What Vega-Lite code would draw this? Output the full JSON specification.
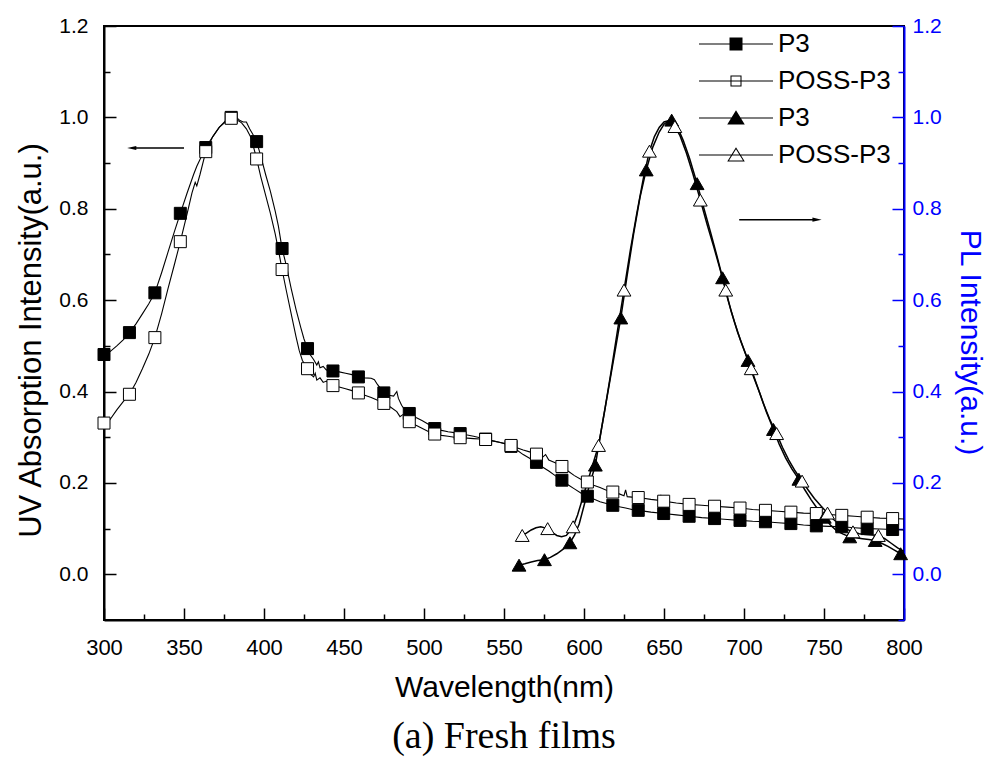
{
  "$schema": "https://vega.github.io/schema/vega-lite/v6.json",
  "width": 800,
  "height": 594,
  "autosize": {"type": "none"},
  "padding": {"left": 104, "top": 26, "right": 87, "bottom": 142},
  "background": "white",
  "title": {"text": "(a) Fresh films", "orient": "bottom", "anchor": "middle", "font": "Liberation Serif", "fontSize": 38, "fontWeight": "normal", "color": "black", "offset": 16},
  "config": {
    "view": {"stroke": "black", "strokeWidth": 2},
    "axis": {"grid": false, "domainColor": "black", "domainWidth": 2, "tickColor": "black", "tickWidth": 1.5, "labelFont": "Liberation Sans", "labelFontSize": 21, "labelColor": "black", "titleFont": "Liberation Sans", "titleFontSize": 30, "titleFontWeight": "normal", "titleColor": "black"},
    "legend": {"padding": 0}
  },
  "datasets": {
    "abs": [
      {"s": "P3 abs", "wl": 300, "v": 0.481}, {"s": "P3 abs", "wl": 304, "v": 0.488}, {"s": "P3 abs", "wl": 308, "v": 0.5}, {"s": "P3 abs", "wl": 312, "v": 0.513}, {"s": "P3 abs", "wl": 315.9, "v": 0.529}, {"s": "P3 abs", "wl": 320, "v": 0.548}, {"s": "P3 abs", "wl": 324, "v": 0.57}, {"s": "P3 abs", "wl": 328, "v": 0.592}, {"s": "P3 abs", "wl": 331.8, "v": 0.616}, {"s": "P3 abs", "wl": 336, "v": 0.66}, {"s": "P3 abs", "wl": 340, "v": 0.705}, {"s": "P3 abs", "wl": 344, "v": 0.75}, {"s": "P3 abs", "wl": 347.7, "v": 0.79}, {"s": "P3 abs", "wl": 352, "v": 0.835}, {"s": "P3 abs", "wl": 356, "v": 0.875}, {"s": "P3 abs", "wl": 358, "v": 0.893}, {"s": "P3 abs", "wl": 360, "v": 0.908}, {"s": "P3 abs", "wl": 363.6, "v": 0.934}, {"s": "P3 abs", "wl": 368, "v": 0.958}, {"s": "P3 abs", "wl": 372, "v": 0.978}, {"s": "P3 abs", "wl": 376, "v": 0.993}, {"s": "P3 abs", "wl": 379.5, "v": 1.0}, {"s": "P3 abs", "wl": 383, "v": 0.999}, {"s": "P3 abs", "wl": 385, "v": 0.993}, {"s": "P3 abs", "wl": 387, "v": 0.99}, {"s": "P3 abs", "wl": 389, "v": 0.99}, {"s": "P3 abs", "wl": 391, "v": 0.975}, {"s": "P3 abs", "wl": 393, "v": 0.963}, {"s": "P3 abs", "wl": 395.4, "v": 0.947}, {"s": "P3 abs", "wl": 398, "v": 0.915}, {"s": "P3 abs", "wl": 401, "v": 0.875}, {"s": "P3 abs", "wl": 404, "v": 0.838}, {"s": "P3 abs", "wl": 407, "v": 0.795}, {"s": "P3 abs", "wl": 409, "v": 0.762}, {"s": "P3 abs", "wl": 411.3, "v": 0.713}, {"s": "P3 abs", "wl": 414, "v": 0.675}, {"s": "P3 abs", "wl": 417, "v": 0.625}, {"s": "P3 abs", "wl": 420, "v": 0.58}, {"s": "P3 abs", "wl": 423, "v": 0.54}, {"s": "P3 abs", "wl": 425, "v": 0.515}, {"s": "P3 abs", "wl": 427.2, "v": 0.494}, {"s": "P3 abs", "wl": 429, "v": 0.48}, {"s": "P3 abs", "wl": 431, "v": 0.47}, {"s": "P3 abs", "wl": 433, "v": 0.458}, {"s": "P3 abs", "wl": 434, "v": 0.465}, {"s": "P3 abs", "wl": 435, "v": 0.452}, {"s": "P3 abs", "wl": 437, "v": 0.455}, {"s": "P3 abs", "wl": 439, "v": 0.447}, {"s": "P3 abs", "wl": 441, "v": 0.45}, {"s": "P3 abs", "wl": 443.1, "v": 0.445}, {"s": "P3 abs", "wl": 447, "v": 0.443}, {"s": "P3 abs", "wl": 451, "v": 0.44}, {"s": "P3 abs", "wl": 455, "v": 0.437}, {"s": "P3 abs", "wl": 459, "v": 0.432}, {"s": "P3 abs", "wl": 463, "v": 0.43}, {"s": "P3 abs", "wl": 467, "v": 0.429}, {"s": "P3 abs", "wl": 469, "v": 0.426}, {"s": "P3 abs", "wl": 471, "v": 0.415}, {"s": "P3 abs", "wl": 474.9, "v": 0.397}, {"s": "P3 abs", "wl": 478, "v": 0.392}, {"s": "P3 abs", "wl": 481, "v": 0.39}, {"s": "P3 abs", "wl": 483, "v": 0.4}, {"s": "P3 abs", "wl": 484, "v": 0.385}, {"s": "P3 abs", "wl": 486, "v": 0.37}, {"s": "P3 abs", "wl": 488, "v": 0.36}, {"s": "P3 abs", "wl": 490.8, "v": 0.352}, {"s": "P3 abs", "wl": 495, "v": 0.343}, {"s": "P3 abs", "wl": 499, "v": 0.336}, {"s": "P3 abs", "wl": 503, "v": 0.328}, {"s": "P3 abs", "wl": 506.7, "v": 0.319}, {"s": "P3 abs", "wl": 511, "v": 0.315}, {"s": "P3 abs", "wl": 515, "v": 0.312}, {"s": "P3 abs", "wl": 519, "v": 0.31}, {"s": "P3 abs", "wl": 522.6, "v": 0.308}, {"s": "P3 abs", "wl": 527, "v": 0.305}, {"s": "P3 abs", "wl": 531, "v": 0.302}, {"s": "P3 abs", "wl": 535, "v": 0.299}, {"s": "P3 abs", "wl": 538.5, "v": 0.296}, {"s": "P3 abs", "wl": 543, "v": 0.292}, {"s": "P3 abs", "wl": 547, "v": 0.289}, {"s": "P3 abs", "wl": 551, "v": 0.285}, {"s": "P3 abs", "wl": 554.4, "v": 0.28}, {"s": "P3 abs", "wl": 558, "v": 0.272}, {"s": "P3 abs", "wl": 562, "v": 0.262}, {"s": "P3 abs", "wl": 566, "v": 0.254}, {"s": "P3 abs", "wl": 570.3, "v": 0.245}, {"s": "P3 abs", "wl": 574, "v": 0.235}, {"s": "P3 abs", "wl": 578, "v": 0.226}, {"s": "P3 abs", "wl": 582, "v": 0.216}, {"s": "P3 abs", "wl": 586.2, "v": 0.206}, {"s": "P3 abs", "wl": 590, "v": 0.196}, {"s": "P3 abs", "wl": 594, "v": 0.187}, {"s": "P3 abs", "wl": 598, "v": 0.178}, {"s": "P3 abs", "wl": 602.1, "v": 0.171}, {"s": "P3 abs", "wl": 606, "v": 0.165}, {"s": "P3 abs", "wl": 610, "v": 0.159}, {"s": "P3 abs", "wl": 614, "v": 0.155}, {"s": "P3 abs", "wl": 618, "v": 0.151}, {"s": "P3 abs", "wl": 622, "v": 0.148}, {"s": "P3 abs", "wl": 626, "v": 0.145}, {"s": "P3 abs", "wl": 630, "v": 0.142}, {"s": "P3 abs", "wl": 633.9, "v": 0.14}, {"s": "P3 abs", "wl": 641.8, "v": 0.136}, {"s": "P3 abs", "wl": 649.8, "v": 0.133}, {"s": "P3 abs", "wl": 657.7, "v": 0.13}, {"s": "P3 abs", "wl": 665.7, "v": 0.127}, {"s": "P3 abs", "wl": 673.6, "v": 0.124}, {"s": "P3 abs", "wl": 681.6, "v": 0.122}, {"s": "P3 abs", "wl": 689.6, "v": 0.12}, {"s": "P3 abs", "wl": 697.5, "v": 0.118}, {"s": "P3 abs", "wl": 705.4, "v": 0.116}, {"s": "P3 abs", "wl": 713.4, "v": 0.115}, {"s": "P3 abs", "wl": 721.3, "v": 0.113}, {"s": "P3 abs", "wl": 729.3, "v": 0.111}, {"s": "P3 abs", "wl": 737.2, "v": 0.108}, {"s": "P3 abs", "wl": 745.2, "v": 0.106}, {"s": "P3 abs", "wl": 753.1, "v": 0.105}, {"s": "P3 abs", "wl": 761.1, "v": 0.104}, {"s": "P3 abs", "wl": 769, "v": 0.102}, {"s": "P3 abs", "wl": 777, "v": 0.1}, {"s": "P3 abs", "wl": 785, "v": 0.099}, {"s": "P3 abs", "wl": 792.9, "v": 0.098}, {"s": "P3 abs", "wl": 800, "v": 0.097},
      {"s": "POSS-P3 abs", "wl": 300, "v": 0.32}, {"s": "POSS-P3 abs", "wl": 304, "v": 0.34}, {"s": "POSS-P3 abs", "wl": 308, "v": 0.36}, {"s": "POSS-P3 abs", "wl": 312, "v": 0.378}, {"s": "POSS-P3 abs", "wl": 315.9, "v": 0.394}, {"s": "POSS-P3 abs", "wl": 320, "v": 0.42}, {"s": "POSS-P3 abs", "wl": 324, "v": 0.45}, {"s": "POSS-P3 abs", "wl": 328, "v": 0.482}, {"s": "POSS-P3 abs", "wl": 331.8, "v": 0.518}, {"s": "POSS-P3 abs", "wl": 336, "v": 0.57}, {"s": "POSS-P3 abs", "wl": 340, "v": 0.625}, {"s": "POSS-P3 abs", "wl": 344, "v": 0.678}, {"s": "POSS-P3 abs", "wl": 347.7, "v": 0.728}, {"s": "POSS-P3 abs", "wl": 352, "v": 0.79}, {"s": "POSS-P3 abs", "wl": 355, "v": 0.835}, {"s": "POSS-P3 abs", "wl": 357, "v": 0.858}, {"s": "POSS-P3 abs", "wl": 358, "v": 0.85}, {"s": "POSS-P3 abs", "wl": 360, "v": 0.875}, {"s": "POSS-P3 abs", "wl": 363.6, "v": 0.925}, {"s": "POSS-P3 abs", "wl": 368, "v": 0.958}, {"s": "POSS-P3 abs", "wl": 372, "v": 0.978}, {"s": "POSS-P3 abs", "wl": 376, "v": 0.99}, {"s": "POSS-P3 abs", "wl": 379.5, "v": 0.998}, {"s": "POSS-P3 abs", "wl": 383, "v": 0.995}, {"s": "POSS-P3 abs", "wl": 386, "v": 0.988}, {"s": "POSS-P3 abs", "wl": 389, "v": 0.975}, {"s": "POSS-P3 abs", "wl": 392, "v": 0.955}, {"s": "POSS-P3 abs", "wl": 395.4, "v": 0.909}, {"s": "POSS-P3 abs", "wl": 398, "v": 0.87}, {"s": "POSS-P3 abs", "wl": 401, "v": 0.83}, {"s": "POSS-P3 abs", "wl": 404, "v": 0.79}, {"s": "POSS-P3 abs", "wl": 407, "v": 0.745}, {"s": "POSS-P3 abs", "wl": 409, "v": 0.71}, {"s": "POSS-P3 abs", "wl": 411.3, "v": 0.667}, {"s": "POSS-P3 abs", "wl": 414, "v": 0.62}, {"s": "POSS-P3 abs", "wl": 417, "v": 0.57}, {"s": "POSS-P3 abs", "wl": 420, "v": 0.52}, {"s": "POSS-P3 abs", "wl": 422, "v": 0.49}, {"s": "POSS-P3 abs", "wl": 424, "v": 0.468}, {"s": "POSS-P3 abs", "wl": 427.2, "v": 0.45}, {"s": "POSS-P3 abs", "wl": 429, "v": 0.438}, {"s": "POSS-P3 abs", "wl": 431, "v": 0.432}, {"s": "POSS-P3 abs", "wl": 432, "v": 0.44}, {"s": "POSS-P3 abs", "wl": 433, "v": 0.425}, {"s": "POSS-P3 abs", "wl": 435, "v": 0.43}, {"s": "POSS-P3 abs", "wl": 437, "v": 0.42}, {"s": "POSS-P3 abs", "wl": 439, "v": 0.423}, {"s": "POSS-P3 abs", "wl": 441, "v": 0.416}, {"s": "POSS-P3 abs", "wl": 443.1, "v": 0.413}, {"s": "POSS-P3 abs", "wl": 447, "v": 0.41}, {"s": "POSS-P3 abs", "wl": 451, "v": 0.406}, {"s": "POSS-P3 abs", "wl": 455, "v": 0.402}, {"s": "POSS-P3 abs", "wl": 459, "v": 0.397}, {"s": "POSS-P3 abs", "wl": 463, "v": 0.392}, {"s": "POSS-P3 abs", "wl": 467, "v": 0.387}, {"s": "POSS-P3 abs", "wl": 471, "v": 0.381}, {"s": "POSS-P3 abs", "wl": 474.9, "v": 0.374}, {"s": "POSS-P3 abs", "wl": 479, "v": 0.366}, {"s": "POSS-P3 abs", "wl": 483, "v": 0.356}, {"s": "POSS-P3 abs", "wl": 485, "v": 0.345}, {"s": "POSS-P3 abs", "wl": 487, "v": 0.35}, {"s": "POSS-P3 abs", "wl": 490.8, "v": 0.334}, {"s": "POSS-P3 abs", "wl": 495, "v": 0.326}, {"s": "POSS-P3 abs", "wl": 499, "v": 0.319}, {"s": "POSS-P3 abs", "wl": 503, "v": 0.312}, {"s": "POSS-P3 abs", "wl": 506.7, "v": 0.307}, {"s": "POSS-P3 abs", "wl": 511, "v": 0.304}, {"s": "POSS-P3 abs", "wl": 515, "v": 0.302}, {"s": "POSS-P3 abs", "wl": 519, "v": 0.3}, {"s": "POSS-P3 abs", "wl": 522.6, "v": 0.299}, {"s": "POSS-P3 abs", "wl": 527, "v": 0.298}, {"s": "POSS-P3 abs", "wl": 531, "v": 0.297}, {"s": "POSS-P3 abs", "wl": 535, "v": 0.296}, {"s": "POSS-P3 abs", "wl": 538.5, "v": 0.295}, {"s": "POSS-P3 abs", "wl": 543, "v": 0.292}, {"s": "POSS-P3 abs", "wl": 547, "v": 0.289}, {"s": "POSS-P3 abs", "wl": 551, "v": 0.286}, {"s": "POSS-P3 abs", "wl": 554.4, "v": 0.282}, {"s": "POSS-P3 abs", "wl": 558, "v": 0.277}, {"s": "POSS-P3 abs", "wl": 562, "v": 0.272}, {"s": "POSS-P3 abs", "wl": 566, "v": 0.268}, {"s": "POSS-P3 abs", "wl": 570.3, "v": 0.263}, {"s": "POSS-P3 abs", "wl": 574, "v": 0.256}, {"s": "POSS-P3 abs", "wl": 576, "v": 0.262}, {"s": "POSS-P3 abs", "wl": 578, "v": 0.25}, {"s": "POSS-P3 abs", "wl": 582, "v": 0.244}, {"s": "POSS-P3 abs", "wl": 586.2, "v": 0.236}, {"s": "POSS-P3 abs", "wl": 590, "v": 0.226}, {"s": "POSS-P3 abs", "wl": 594, "v": 0.216}, {"s": "POSS-P3 abs", "wl": 598, "v": 0.208}, {"s": "POSS-P3 abs", "wl": 602.1, "v": 0.202}, {"s": "POSS-P3 abs", "wl": 606, "v": 0.195}, {"s": "POSS-P3 abs", "wl": 610, "v": 0.19}, {"s": "POSS-P3 abs", "wl": 614, "v": 0.184}, {"s": "POSS-P3 abs", "wl": 618, "v": 0.18}, {"s": "POSS-P3 abs", "wl": 622, "v": 0.176}, {"s": "POSS-P3 abs", "wl": 625, "v": 0.172}, {"s": "POSS-P3 abs", "wl": 626, "v": 0.185}, {"s": "POSS-P3 abs", "wl": 627, "v": 0.17}, {"s": "POSS-P3 abs", "wl": 630, "v": 0.169}, {"s": "POSS-P3 abs", "wl": 633.9, "v": 0.168}, {"s": "POSS-P3 abs", "wl": 641.8, "v": 0.164}, {"s": "POSS-P3 abs", "wl": 647, "v": 0.162}, {"s": "POSS-P3 abs", "wl": 648, "v": 0.174}, {"s": "POSS-P3 abs", "wl": 649, "v": 0.158}, {"s": "POSS-P3 abs", "wl": 649.8, "v": 0.16}, {"s": "POSS-P3 abs", "wl": 657.7, "v": 0.156}, {"s": "POSS-P3 abs", "wl": 665.7, "v": 0.153}, {"s": "POSS-P3 abs", "wl": 673.6, "v": 0.151}, {"s": "POSS-P3 abs", "wl": 681.6, "v": 0.149}, {"s": "POSS-P3 abs", "wl": 689.6, "v": 0.147}, {"s": "POSS-P3 abs", "wl": 697.5, "v": 0.145}, {"s": "POSS-P3 abs", "wl": 705.4, "v": 0.142}, {"s": "POSS-P3 abs", "wl": 713.4, "v": 0.14}, {"s": "POSS-P3 abs", "wl": 721.3, "v": 0.138}, {"s": "POSS-P3 abs", "wl": 729.3, "v": 0.136}, {"s": "POSS-P3 abs", "wl": 737.2, "v": 0.134}, {"s": "POSS-P3 abs", "wl": 745.2, "v": 0.133}, {"s": "POSS-P3 abs", "wl": 753.1, "v": 0.131}, {"s": "POSS-P3 abs", "wl": 761.1, "v": 0.129}, {"s": "POSS-P3 abs", "wl": 769, "v": 0.127}, {"s": "POSS-P3 abs", "wl": 777, "v": 0.125}, {"s": "POSS-P3 abs", "wl": 785, "v": 0.123}, {"s": "POSS-P3 abs", "wl": 792.9, "v": 0.122}, {"s": "POSS-P3 abs", "wl": 800, "v": 0.121}
    ],
    "absMarks": [
      {"s": "P3 abs", "wl": 300, "v": 0.481}, {"s": "P3 abs", "wl": 315.9, "v": 0.529}, {"s": "P3 abs", "wl": 331.8, "v": 0.616}, {"s": "P3 abs", "wl": 347.7, "v": 0.79}, {"s": "P3 abs", "wl": 363.6, "v": 0.934}, {"s": "P3 abs", "wl": 379.5, "v": 1.0}, {"s": "P3 abs", "wl": 395.4, "v": 0.947}, {"s": "P3 abs", "wl": 411.3, "v": 0.713}, {"s": "P3 abs", "wl": 427.2, "v": 0.494}, {"s": "P3 abs", "wl": 443.1, "v": 0.445}, {"s": "P3 abs", "wl": 459, "v": 0.432}, {"s": "P3 abs", "wl": 474.9, "v": 0.397}, {"s": "P3 abs", "wl": 490.8, "v": 0.352}, {"s": "P3 abs", "wl": 506.7, "v": 0.319}, {"s": "P3 abs", "wl": 522.6, "v": 0.308}, {"s": "P3 abs", "wl": 538.5, "v": 0.296}, {"s": "P3 abs", "wl": 554.4, "v": 0.28}, {"s": "P3 abs", "wl": 570.3, "v": 0.245}, {"s": "P3 abs", "wl": 586.2, "v": 0.206}, {"s": "P3 abs", "wl": 602.1, "v": 0.171}, {"s": "P3 abs", "wl": 618, "v": 0.151}, {"s": "P3 abs", "wl": 633.9, "v": 0.14}, {"s": "P3 abs", "wl": 649.8, "v": 0.133}, {"s": "P3 abs", "wl": 665.7, "v": 0.127}, {"s": "P3 abs", "wl": 681.6, "v": 0.122}, {"s": "P3 abs", "wl": 697.5, "v": 0.118}, {"s": "P3 abs", "wl": 713.4, "v": 0.115}, {"s": "P3 abs", "wl": 729.3, "v": 0.111}, {"s": "P3 abs", "wl": 745.2, "v": 0.106}, {"s": "P3 abs", "wl": 761.1, "v": 0.104}, {"s": "P3 abs", "wl": 777, "v": 0.1}, {"s": "P3 abs", "wl": 792.9, "v": 0.098},
      {"s": "POSS-P3 abs", "wl": 300, "v": 0.331}, {"s": "POSS-P3 abs", "wl": 315.9, "v": 0.394}, {"s": "POSS-P3 abs", "wl": 331.8, "v": 0.518}, {"s": "POSS-P3 abs", "wl": 347.7, "v": 0.728}, {"s": "POSS-P3 abs", "wl": 363.6, "v": 0.925}, {"s": "POSS-P3 abs", "wl": 379.5, "v": 0.998}, {"s": "POSS-P3 abs", "wl": 395.4, "v": 0.909}, {"s": "POSS-P3 abs", "wl": 411.3, "v": 0.667}, {"s": "POSS-P3 abs", "wl": 427.2, "v": 0.45}, {"s": "POSS-P3 abs", "wl": 443.1, "v": 0.413}, {"s": "POSS-P3 abs", "wl": 459, "v": 0.397}, {"s": "POSS-P3 abs", "wl": 474.9, "v": 0.374}, {"s": "POSS-P3 abs", "wl": 490.8, "v": 0.334}, {"s": "POSS-P3 abs", "wl": 506.7, "v": 0.307}, {"s": "POSS-P3 abs", "wl": 522.6, "v": 0.299}, {"s": "POSS-P3 abs", "wl": 538.5, "v": 0.295}, {"s": "POSS-P3 abs", "wl": 554.4, "v": 0.282}, {"s": "POSS-P3 abs", "wl": 570.3, "v": 0.263}, {"s": "POSS-P3 abs", "wl": 586.2, "v": 0.236}, {"s": "POSS-P3 abs", "wl": 602.1, "v": 0.202}, {"s": "POSS-P3 abs", "wl": 618, "v": 0.18}, {"s": "POSS-P3 abs", "wl": 633.9, "v": 0.168}, {"s": "POSS-P3 abs", "wl": 649.8, "v": 0.16}, {"s": "POSS-P3 abs", "wl": 665.7, "v": 0.153}, {"s": "POSS-P3 abs", "wl": 681.6, "v": 0.149}, {"s": "POSS-P3 abs", "wl": 697.5, "v": 0.145}, {"s": "POSS-P3 abs", "wl": 713.4, "v": 0.14}, {"s": "POSS-P3 abs", "wl": 729.3, "v": 0.136}, {"s": "POSS-P3 abs", "wl": 745.2, "v": 0.133}, {"s": "POSS-P3 abs", "wl": 761.1, "v": 0.129}, {"s": "POSS-P3 abs", "wl": 777, "v": 0.125}, {"s": "POSS-P3 abs", "wl": 792.9, "v": 0.122}
    ],
    "pl": [
      {"s": "P3 PL", "wl": 559.4, "v": 0.02}, {"s": "P3 PL", "wl": 563, "v": 0.023}, {"s": "P3 PL", "wl": 567, "v": 0.027}, {"s": "P3 PL", "wl": 571, "v": 0.03}, {"s": "P3 PL", "wl": 575.3, "v": 0.032}, {"s": "P3 PL", "wl": 579, "v": 0.037}, {"s": "P3 PL", "wl": 583, "v": 0.045}, {"s": "P3 PL", "wl": 587, "v": 0.055}, {"s": "P3 PL", "wl": 591.2, "v": 0.069}, {"s": "P3 PL", "wl": 594, "v": 0.085}, {"s": "P3 PL", "wl": 597, "v": 0.11}, {"s": "P3 PL", "wl": 600, "v": 0.15}, {"s": "P3 PL", "wl": 603, "v": 0.19}, {"s": "P3 PL", "wl": 607.1, "v": 0.239}, {"s": "P3 PL", "wl": 611, "v": 0.32}, {"s": "P3 PL", "wl": 615, "v": 0.4}, {"s": "P3 PL", "wl": 619, "v": 0.48}, {"s": "P3 PL", "wl": 623, "v": 0.561}, {"s": "P3 PL", "wl": 627, "v": 0.655}, {"s": "P3 PL", "wl": 631, "v": 0.745}, {"s": "P3 PL", "wl": 635, "v": 0.825}, {"s": "P3 PL", "wl": 638.9, "v": 0.885}, {"s": "P3 PL", "wl": 643, "v": 0.935}, {"s": "P3 PL", "wl": 647, "v": 0.968}, {"s": "P3 PL", "wl": 650, "v": 0.985}, {"s": "P3 PL", "wl": 652, "v": 0.99}, {"s": "P3 PL", "wl": 654.8, "v": 0.994}, {"s": "P3 PL", "wl": 658, "v": 0.982}, {"s": "P3 PL", "wl": 662, "v": 0.95}, {"s": "P3 PL", "wl": 666, "v": 0.91}, {"s": "P3 PL", "wl": 670.7, "v": 0.855}, {"s": "P3 PL", "wl": 675, "v": 0.8}, {"s": "P3 PL", "wl": 679, "v": 0.75}, {"s": "P3 PL", "wl": 683, "v": 0.698}, {"s": "P3 PL", "wl": 686.6, "v": 0.649}, {"s": "P3 PL", "wl": 690, "v": 0.6}, {"s": "P3 PL", "wl": 694, "v": 0.553}, {"s": "P3 PL", "wl": 698, "v": 0.51}, {"s": "P3 PL", "wl": 702.5, "v": 0.468}, {"s": "P3 PL", "wl": 706, "v": 0.432}, {"s": "P3 PL", "wl": 710, "v": 0.395}, {"s": "P3 PL", "wl": 714, "v": 0.355}, {"s": "P3 PL", "wl": 718.4, "v": 0.317}, {"s": "P3 PL", "wl": 722, "v": 0.285}, {"s": "P3 PL", "wl": 726, "v": 0.255}, {"s": "P3 PL", "wl": 730, "v": 0.23}, {"s": "P3 PL", "wl": 734.3, "v": 0.208}, {"s": "P3 PL", "wl": 738, "v": 0.185}, {"s": "P3 PL", "wl": 742, "v": 0.163}, {"s": "P3 PL", "wl": 746, "v": 0.143}, {"s": "P3 PL", "wl": 750.2, "v": 0.125}, {"s": "P3 PL", "wl": 754, "v": 0.108}, {"s": "P3 PL", "wl": 758, "v": 0.095}, {"s": "P3 PL", "wl": 762, "v": 0.088}, {"s": "P3 PL", "wl": 766.1, "v": 0.082}, {"s": "P3 PL", "wl": 770, "v": 0.08}, {"s": "P3 PL", "wl": 774, "v": 0.078}, {"s": "P3 PL", "wl": 778, "v": 0.076}, {"s": "P3 PL", "wl": 782, "v": 0.074}, {"s": "P3 PL", "wl": 786, "v": 0.068}, {"s": "P3 PL", "wl": 790, "v": 0.061}, {"s": "P3 PL", "wl": 794, "v": 0.053}, {"s": "P3 PL", "wl": 797.9, "v": 0.045}, {"s": "P3 PL", "wl": 800, "v": 0.041},
      {"s": "POSS-P3 PL", "wl": 561.4, "v": 0.085}, {"s": "POSS-P3 PL", "wl": 564, "v": 0.09}, {"s": "POSS-P3 PL", "wl": 567, "v": 0.097}, {"s": "POSS-P3 PL", "wl": 570, "v": 0.102}, {"s": "POSS-P3 PL", "wl": 573, "v": 0.104}, {"s": "POSS-P3 PL", "wl": 577.3, "v": 0.1}, {"s": "POSS-P3 PL", "wl": 580, "v": 0.092}, {"s": "POSS-P3 PL", "wl": 583, "v": 0.085}, {"s": "POSS-P3 PL", "wl": 586, "v": 0.082}, {"s": "POSS-P3 PL", "wl": 589, "v": 0.085}, {"s": "POSS-P3 PL", "wl": 593.2, "v": 0.104}, {"s": "POSS-P3 PL", "wl": 596, "v": 0.13}, {"s": "POSS-P3 PL", "wl": 599, "v": 0.165}, {"s": "POSS-P3 PL", "wl": 602, "v": 0.2}, {"s": "POSS-P3 PL", "wl": 605, "v": 0.235}, {"s": "POSS-P3 PL", "wl": 609.1, "v": 0.282}, {"s": "POSS-P3 PL", "wl": 613, "v": 0.36}, {"s": "POSS-P3 PL", "wl": 617, "v": 0.445}, {"s": "POSS-P3 PL", "wl": 621, "v": 0.535}, {"s": "POSS-P3 PL", "wl": 625, "v": 0.622}, {"s": "POSS-P3 PL", "wl": 629, "v": 0.71}, {"s": "POSS-P3 PL", "wl": 633, "v": 0.79}, {"s": "POSS-P3 PL", "wl": 637, "v": 0.865}, {"s": "POSS-P3 PL", "wl": 640.9, "v": 0.926}, {"s": "POSS-P3 PL", "wl": 644, "v": 0.958}, {"s": "POSS-P3 PL", "wl": 647, "v": 0.978}, {"s": "POSS-P3 PL", "wl": 650, "v": 0.99}, {"s": "POSS-P3 PL", "wl": 653, "v": 0.993}, {"s": "POSS-P3 PL", "wl": 656.8, "v": 0.98}, {"s": "POSS-P3 PL", "wl": 660, "v": 0.96}, {"s": "POSS-P3 PL", "wl": 664, "v": 0.922}, {"s": "POSS-P3 PL", "wl": 668, "v": 0.877}, {"s": "POSS-P3 PL", "wl": 672.7, "v": 0.819}, {"s": "POSS-P3 PL", "wl": 677, "v": 0.765}, {"s": "POSS-P3 PL", "wl": 681, "v": 0.718}, {"s": "POSS-P3 PL", "wl": 685, "v": 0.668}, {"s": "POSS-P3 PL", "wl": 688.6, "v": 0.622}, {"s": "POSS-P3 PL", "wl": 692, "v": 0.575}, {"s": "POSS-P3 PL", "wl": 696, "v": 0.53}, {"s": "POSS-P3 PL", "wl": 700, "v": 0.492}, {"s": "POSS-P3 PL", "wl": 704.5, "v": 0.45}, {"s": "POSS-P3 PL", "wl": 708, "v": 0.415}, {"s": "POSS-P3 PL", "wl": 712, "v": 0.375}, {"s": "POSS-P3 PL", "wl": 716, "v": 0.34}, {"s": "POSS-P3 PL", "wl": 720.4, "v": 0.308}, {"s": "POSS-P3 PL", "wl": 724, "v": 0.278}, {"s": "POSS-P3 PL", "wl": 728, "v": 0.25}, {"s": "POSS-P3 PL", "wl": 732, "v": 0.226}, {"s": "POSS-P3 PL", "wl": 736.3, "v": 0.204}, {"s": "POSS-P3 PL", "wl": 740, "v": 0.185}, {"s": "POSS-P3 PL", "wl": 744, "v": 0.166}, {"s": "POSS-P3 PL", "wl": 748, "v": 0.15}, {"s": "POSS-P3 PL", "wl": 752.2, "v": 0.134}, {"s": "POSS-P3 PL", "wl": 756, "v": 0.12}, {"s": "POSS-P3 PL", "wl": 760, "v": 0.108}, {"s": "POSS-P3 PL", "wl": 764, "v": 0.099}, {"s": "POSS-P3 PL", "wl": 768.1, "v": 0.093}, {"s": "POSS-P3 PL", "wl": 772, "v": 0.089}, {"s": "POSS-P3 PL", "wl": 776, "v": 0.087}, {"s": "POSS-P3 PL", "wl": 780, "v": 0.086}, {"s": "POSS-P3 PL", "wl": 784, "v": 0.085}, {"s": "POSS-P3 PL", "wl": 788, "v": 0.078}, {"s": "POSS-P3 PL", "wl": 792, "v": 0.068}, {"s": "POSS-P3 PL", "wl": 796, "v": 0.058}, {"s": "POSS-P3 PL", "wl": 800, "v": 0.05}
    ],
    "plMarks": [
      {"s": "P3 PL", "wl": 559.4, "v": 0.02}, {"s": "P3 PL", "wl": 575.3, "v": 0.032}, {"s": "P3 PL", "wl": 591.2, "v": 0.069}, {"s": "P3 PL", "wl": 607.1, "v": 0.239}, {"s": "P3 PL", "wl": 623, "v": 0.561}, {"s": "P3 PL", "wl": 638.9, "v": 0.885}, {"s": "P3 PL", "wl": 654.8, "v": 0.994}, {"s": "P3 PL", "wl": 670.7, "v": 0.855}, {"s": "P3 PL", "wl": 686.6, "v": 0.649}, {"s": "P3 PL", "wl": 702.5, "v": 0.468}, {"s": "P3 PL", "wl": 718.4, "v": 0.317}, {"s": "P3 PL", "wl": 734.3, "v": 0.208}, {"s": "P3 PL", "wl": 750.2, "v": 0.125}, {"s": "P3 PL", "wl": 766.1, "v": 0.082}, {"s": "P3 PL", "wl": 782, "v": 0.074}, {"s": "P3 PL", "wl": 797.9, "v": 0.045},
      {"s": "POSS-P3 PL", "wl": 561.4, "v": 0.085}, {"s": "POSS-P3 PL", "wl": 577.3, "v": 0.1}, {"s": "POSS-P3 PL", "wl": 593.2, "v": 0.104}, {"s": "POSS-P3 PL", "wl": 609.1, "v": 0.282}, {"s": "POSS-P3 PL", "wl": 625, "v": 0.622}, {"s": "POSS-P3 PL", "wl": 640.9, "v": 0.926}, {"s": "POSS-P3 PL", "wl": 656.8, "v": 0.98}, {"s": "POSS-P3 PL", "wl": 672.7, "v": 0.819}, {"s": "POSS-P3 PL", "wl": 688.6, "v": 0.622}, {"s": "POSS-P3 PL", "wl": 704.5, "v": 0.45}, {"s": "POSS-P3 PL", "wl": 720.4, "v": 0.308}, {"s": "POSS-P3 PL", "wl": 736.3, "v": 0.204}, {"s": "POSS-P3 PL", "wl": 752.2, "v": 0.134}, {"s": "POSS-P3 PL", "wl": 768.1, "v": 0.093}, {"s": "POSS-P3 PL", "wl": 784, "v": 0.085}
    ],
    "arrows": [
      {"dir": "left", "from": 350, "to": 318, "v": 0.933},
      {"dir": "right", "from": 697, "to": 745, "v": 0.776}
    ]
  },
  "layer": [
    {
      "data": {"name": "abs"},
      "mark": {"type": "line", "color": "black", "strokeWidth": 1.1},
      "encoding": {
        "x": {"field": "wl", "type": "quantitative", "scale": {"domain": [300, 800], "nice": false, "zero": false},
              "axis": {"orient": "bottom", "title": "Wavelength(nm)", "values": [300, 350, 400, 450, 500, 550, 600, 650, 700, 750, 800], "tickSize": -12, "labelPadding": 29, "labelFontSize": 22, "titlePadding": 14, "labelFlush": false}},
        "y": {"field": "v", "type": "quantitative", "scale": {"domain": [-0.1, 1.2], "nice": false, "zero": false},
              "axis": {"orient": "left", "title": "UV Absorption Intensity(a.u.)", "titleY": 314, "titleFontSize": 31, "values": [0, 0.2, 0.4, 0.6, 0.8, 1.0, 1.2], "format": ".1f", "tickSize": -12, "labelPadding": 28, "titlePadding": 11, "labelFlush": false}},
        "detail": {"field": "s"}
      }
    },
    {
      "data": {"name": "pl"},
      "mark": {"type": "line", "color": "black", "strokeWidth": 1.5},
      "encoding": {
        "x": {"field": "wl", "type": "quantitative", "scale": {"domain": [300, 800], "nice": false, "zero": false}, "axis": null},
        "y": {"field": "v", "type": "quantitative", "scale": {"domain": [-0.1, 1.2], "nice": false, "zero": false},
              "axis": {"orient": "right", "title": "PL Intensity(a.u.)", "titleY": 316, "values": [0, 0.2, 0.4, 0.6, 0.8, 1.0, 1.2], "format": ".1f", "tickSize": -12, "labelPadding": 20, "titlePadding": 13, "labelFlush": false,
                       "domainColor": "#0000FF", "tickColor": "#0000FF", "labelColor": "#0000FF", "titleColor": "#0000FF"}},
        "detail": {"field": "s"}
      }
    },
    {
      "data": {"name": "absMarks"},
      "transform": [{"filter": "datum.s === 'P3 abs'"}],
      "mark": {"type": "point", "shape": "square", "size": 144, "filled": true, "fill": "black", "stroke": "black", "strokeWidth": 1, "opacity": 1},
      "encoding": {
        "x": {"field": "wl", "type": "quantitative", "scale": {"domain": [300, 800], "nice": false, "zero": false},
              "axis": {"orient": "bottom", "title": null, "labels": false, "domain": false, "values": [325, 375, 425, 475, 525, 575, 625, 675, 725, 775], "tickSize": -6}},
        "y": {"field": "v", "type": "quantitative", "scale": {"domain": [-0.1, 1.2], "nice": false, "zero": false},
              "axis": {"orient": "left", "title": null, "labels": false, "domain": false, "values": [0.1, 0.3, 0.5, 0.7, 0.9, 1.1], "tickSize": -6}}
      }
    },
    {
      "data": {"name": "absMarks"},
      "transform": [{"filter": "datum.s === 'POSS-P3 abs'"}],
      "mark": {"type": "point", "shape": "square", "size": 144, "filled": true, "fill": "white", "stroke": "black", "strokeWidth": 1, "opacity": 1},
      "encoding": {
        "x": {"field": "wl", "type": "quantitative", "scale": {"domain": [300, 800], "nice": false, "zero": false}, "axis": null},
        "y": {"field": "v", "type": "quantitative", "scale": {"domain": [-0.1, 1.2], "nice": false, "zero": false}, "axis": null}
      }
    },
    {
      "data": {"name": "plMarks"},
      "transform": [{"filter": "datum.s === 'P3 PL'"}],
      "mark": {"type": "point", "shape": "triangle-up", "size": 190, "filled": true, "fill": "black", "stroke": "black", "strokeWidth": 1, "opacity": 1},
      "encoding": {
        "x": {"field": "wl", "type": "quantitative", "scale": {"domain": [300, 800], "nice": false, "zero": false}, "axis": null},
        "y": {"field": "v", "type": "quantitative", "scale": {"domain": [-0.1, 1.2], "nice": false, "zero": false},
              "axis": {"orient": "right", "title": null, "labels": false, "domain": false, "values": [-0.1, 0.1, 0.3, 0.5, 0.7, 0.9, 1.1], "tickSize": -6, "tickColor": "#0000FF"}}
      }
    },
    {
      "data": {"name": "plMarks"},
      "transform": [{"filter": "datum.s === 'POSS-P3 PL'"}],
      "mark": {"type": "point", "shape": "triangle-up", "size": 190, "filled": true, "fill": "white", "stroke": "black", "strokeWidth": 1, "opacity": 1},
      "encoding": {
        "x": {"field": "wl", "type": "quantitative", "scale": {"domain": [300, 800], "nice": false, "zero": false}, "axis": null},
        "y": {"field": "v", "type": "quantitative", "scale": {"domain": [-0.1, 1.2], "nice": false, "zero": false}, "axis": null}
      }
    },
    {
      "data": {"name": "arrows"},
      "mark": {"type": "rule", "color": "black", "strokeWidth": 1.3},
      "encoding": {
        "x": {"field": "from", "type": "quantitative", "scale": {"domain": [300, 800], "nice": false, "zero": false}, "axis": null},
        "x2": {"field": "to"},
        "y": {"field": "v", "type": "quantitative", "scale": {"domain": [-0.1, 1.2], "nice": false, "zero": false}, "axis": null}
      }
    },
    {
      "data": {"name": "arrows"},
      "transform": [{"filter": "datum.dir === 'left'"}],
      "mark": {"type": "point", "shape": "M1,-0.6L-1.6,0L1,0.6Z", "size": 50, "filled": true, "fill": "black", "stroke": null, "opacity": 1},
      "encoding": {
        "x": {"field": "to", "type": "quantitative", "scale": {"domain": [300, 800], "nice": false, "zero": false}, "axis": null},
        "y": {"field": "v", "type": "quantitative", "scale": {"domain": [-0.1, 1.2], "nice": false, "zero": false}, "axis": null}
      }
    },
    {
      "data": {"name": "arrows"},
      "transform": [{"filter": "datum.dir === 'right'"}],
      "mark": {"type": "point", "shape": "M-1,-0.6L1.6,0L-1,0.6Z", "size": 50, "filled": true, "fill": "black", "stroke": null, "opacity": 1},
      "encoding": {
        "x": {"field": "to", "type": "quantitative", "scale": {"domain": [300, 800], "nice": false, "zero": false}, "axis": null},
        "y": {"field": "v", "type": "quantitative", "scale": {"domain": [-0.1, 1.2], "nice": false, "zero": false}, "axis": null}
      }
    },
    {
      "data": {"name": "plMarks"},
      "transform": [{"filter": "datum.wl < 0"}],
      "mark": {"type": "point", "filled": true, "fill": "black", "strokeWidth": 0, "opacity": 1},
      "encoding": {
        "x": {"field": "wl", "type": "quantitative", "scale": {"domain": [300, 800], "nice": false, "zero": false}, "axis": null},
        "y": {"field": "v", "type": "quantitative", "scale": {"domain": [-0.1, 1.2], "nice": false, "zero": false}, "axis": null},
        "shape": {"field": "s", "type": "nominal",
                  "scale": {"domain": ["P3 abs", "POSS-P3 abs", "P3 PL", "POSS-P3 PL"],
                            "range": [
                              "M-5.7,-0.09H5.7V0.09H-5.7ZM-1,-1H1V1H-1Z",
                              "M-5.7,-0.09H5.7V0.09H-5.7ZM-0.85,-0.85H0.85V0.85H-0.85ZM-0.69,-0.69V0.69H0.69V-0.69Z",
                              "M-5.7,-0.09H5.7V0.09H-5.7ZM0,-1.2L1.35,1H-1.35Z",
                              "M-5.7,-0.09H5.7V0.09H-5.7ZM0,-1.2L1.35,1H-1.35ZM0,-0.88L-1.07,0.84H1.07Z"
                            ]},
                  "legend": {"orient": "none", "legendX": 619, "legendY": 5, "title": null, "symbolSize": 169, "symbolStrokeWidth": 0, "symbolFillColor": "black", "symbolOffset": 0, "labelOffset": 29, "labelFont": "Liberation Sans", "labelFontSize": 26, "labelColor": "black", "labelBaseline": "middle", "rowPadding": 11, "labelExpr": "split(datum.label, ' ')[0]", "labelLimit": 300}}
      }
    }
  ],
  "resolve": {"axis": {"x": "independent", "y": "independent"}}
}
